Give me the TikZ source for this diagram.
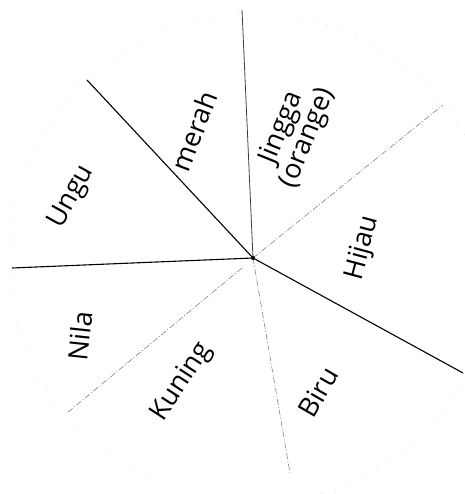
\documentclass[tikz,border=0pt]{standalone}
\usepackage{fontspec}
\setmainfont{Open Sans}
\begin{document}
\begin{tikzpicture}[x=1pt,y=-1pt,
  solidline/.style={line width=1.1pt,black},
  midline/.style={line width=0.8pt,black!75},
  faintline/.style={line width=0.5pt,black!55,dash pattern=on 6pt off 2pt on 1pt off 2pt},
  lbl/.style={font=\fontsize{27}{28}\selectfont,inner sep=0pt,align=center}]
\useasboundingbox (0,0) rectangle (464,494);
\fill[white] (0,0) rectangle (464,494);
% faint outer circle
\draw[black!20,line width=0.4pt,dash pattern=on 1pt off 14pt] (253,258) circle (245);
\coordinate (c) at (253,258);
\coordinate (e1) at (87,80);
\coordinate (e2) at (242,10);
\coordinate (e3) at (443,105);
\coordinate (e4) at (463,373);
\coordinate (e5) at (290,473);
\coordinate (s6) at (242,268);
\coordinate (e6) at (67,413);
\coordinate (e7) at (12,268);
\draw[solidline] (c) -- (e1);
\draw[midline] (c) -- (e2);
\draw[faintline] (c) -- (e3);
\draw[solidline] (c) -- (e4);
\draw[faintline] (c) -- (e5);
\draw[faintline] (s6) -- (e6);
\draw[solidline] (c) -- (e7);
\fill (c) circle (2);
\node[lbl,rotate=69] (merah) at (194,131) {merah};
\node[lbl,rotate=68] (jingga) at (295,133) {Jingga\\(orange)};
\node[lbl,rotate=75] (hijau) at (363,248) {Hijau};
\node[lbl,rotate=60] (biru) at (318,392) {Biru};
\node[lbl,rotate=57] (kuning) at (182,382) {Kuning};
\node[lbl,rotate=84] (nila) at (80,336) {Nila};
\node[lbl,rotate=61] (ungu) at (72,197) {Ungu};
\end{tikzpicture}
\end{document}
